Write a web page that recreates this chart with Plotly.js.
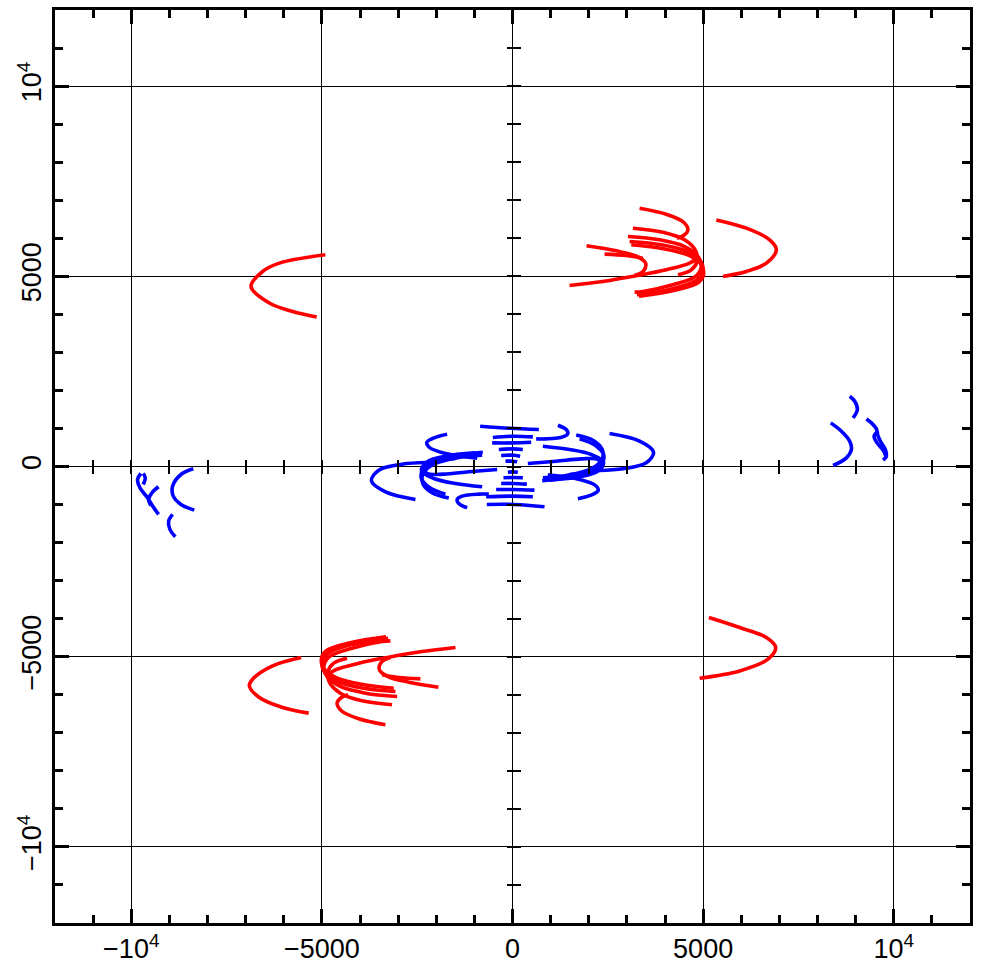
<!DOCTYPE html>
<html>
<head>
<meta charset="utf-8">
<script src="https://cdn.plot.ly/plotly-3.0.1.min.js"></script>
<style>
  html, body { margin: 0; padding: 0; background: #fff; }
  #chart { width: 981px; height: 971px; }
</style>
</head>
<body>
<div id="chart"></div>
<script>
// tick labels
const TICK_VALS = [-10000, -5000, 0, 5000, 10000];
const TICK_TEXT = ["\u221210<sup>4</sup>", "\u22125000", "0", "5000", "10<sup>4</sup>"];

// red tracks, upper right and lower left clusters plus the two lone arcs
const redNorthX = [
  [5346, 6134, 6745, 6921, 6659, 6134, 5520],
  [3333, 4033, 4488, 4601, 4488, 4313],
  [3158, 3946, 4514, 4803, 4838, 4689, 4339],
  [3027, 3858, 4514, 4864, 4952, 4803, 4208, 3421, 3202],
  [3071, 3902, 4576, 4908, 4996, 4838, 4251, 3517, 3263],
  [3115, 3963, 4628, 4943, 5013, 4890, 4313, 3596, 3316],
  [1942, 2721, 3263, 3491, 3438, 3202],
  [2415, 2983, 3421],
  [1496, 2371, 3246, 4033, 4646, 4864],
  [-4908, -6115, -6554, -6858, -6378, -5766, -5136],
];
const redNorthY = [
  [6483, 6265, 5958, 5696, 5346, 5126, 4995],
  [6789, 6632, 6422, 6221, 6072, 6002],
  [6264, 6159, 5958, 5669, 5389, 5171, 5039],
  [6046, 5958, 5783, 5521, 5258, 4996, 4777, 4602, 4584],
  [5914, 5827, 5652, 5433, 5171, 4908, 4689, 4549, 4514],
  [5827, 5722, 5547, 5319, 5057, 4847, 4646, 4514, 4479],
  [5801, 5669, 5521, 5346, 5144, 5022],
  [5582, 5547, 5477],
  [4759, 4864, 5013, 5171, 5346, 5494],
  [5564, 5346, 5126, 4732, 4297, 4076, 3929],
];
const redSouthX = [
  [-5546, -6291, -6816, -6903, -6640, -6029, -5346],
  [-3333, -4033, -4488, -4601, -4488, -4313],
  [-3158, -3946, -4514, -4803, -4838, -4689, -4339],
  [-3027, -3858, -4514, -4864, -4952, -4803, -4208, -3421, -3202],
  [-3071, -3902, -4576, -4908, -4996, -4838, -4251, -3517, -3263],
  [-3115, -3963, -4628, -4943, -5013, -4890, -4313, -3596, -3316],
  [-1942, -2721, -3263, -3491, -3438, -3202],
  [-2415, -2983, -3421],
  [-1496, -2371, -3246, -4033, -4646, -4864],
  [5152, 5958, 6659, 6903, 6701, 5958, 4908],
];
const redSouthY = [
  [-5021, -5241, -5591, -5766, -6071, -6333, -6483],
  [-6789, -6632, -6422, -6221, -6072, -6002],
  [-6264, -6159, -5958, -5669, -5389, -5171, -5039],
  [-6046, -5958, -5783, -5521, -5258, -4996, -4777, -4602, -4584],
  [-5914, -5827, -5652, -5433, -5171, -4908, -4689, -4549, -4514],
  [-5827, -5722, -5547, -5319, -5057, -4847, -4646, -4514, -4479],
  [-5801, -5669, -5521, -5346, -5144, -5022],
  [-5582, -5547, -5477],
  [-4759, -4864, -5013, -5171, -5346, -5494],
  [-3971, -4234, -4496, -4759, -5066, -5373, -5564],
];

// blue tracks near the origin
const blueCoreX = [
  [2546, 3333, 3701, 3508, 2896, 2266],
  [1190, 1409, 1452, 1321, 884, 621],
  [1671, 2109, 2353, 2345, 2065, 1409, 796],
  [1759, 2178, 2397, 2301, 1890, 1234, 779],
  [796, 1496, 2065, 2388, 2240, 1759, 971],
  [402, 1146, 1802, 2240, 2327, 2109, 1496],
  [927, 1759, 2178, 2248, 2039, 1715],
  [-2546, -3333, -3701, -3508, -2896, -2266],
  [-1190, -1409, -1452, -1321, -884, -621],
  [-1671, -2109, -2353, -2345, -2065, -1409, -796],
  [-1759, -2178, -2397, -2301, -1890, -1234, -779],
  [-796, -1496, -2065, -2388, -2240, -1759, -971],
  [-402, -1146, -1802, -2240, -2327, -2109, -1496],
  [-927, -1759, -2178, -2248, -2039, -1715],
  [-849, -79, 691],
  [-516, 9, 534],
  [-534, 9, 490],
  [-359, 9, 271],
  [-297, 9, 201],
  [-184, 9, 122],
  [-122, 9, 140],
  [-236, 9, 271],
  [-297, 9, 376],
  [-429, 9, 577],
  [-691, 9, 534],
  [-674, 52, 840],
];
const blueCoreY = [
  [866, 665, 376, 96, -61, -105],
  [1085, 971, 866, 779, 726, 726],
  [831, 691, 446, 184, -61, -236, -297],
  [726, 551, 289, 26, -184, -324, -376],
  [534, 446, 315, 114, -122, -271, -359],
  [79, 140, 201, 184, 26, -122, -210],
  [-219, -341, -499, -630, -761, -849],
  [-866, -665, -376, -96, 61, 105],
  [-1085, -971, -866, -779, -726, -726],
  [-831, -691, -446, -184, 61, 236, 297],
  [-726, -551, -289, -26, 184, 324, 376],
  [-534, -446, -315, -114, 122, 271, 359],
  [-79, -140, -201, -184, -26, 122, 210],
  [219, 341, 499, 630, 761, 849],
  [1059, 1006, 971],
  [761, 796, 779],
  [621, 621, 639],
  [446, 464, 446],
  [289, 297, 271],
  [140, 140, 122],
  [-149, -140, -149],
  [-297, -289, -297],
  [-446, -446, -464],
  [-604, -604, -621],
  [-796, -779, -796],
  [-997, -997, -1059],
];

// blue tracks far west and far east
const blueWestX = [
  [-8373, -8696, -8915, -8898, -8696, -8347],
  [-8915, -9020, -8985, -8845],
  [-9747, -9834, -9773, -9572, -9440, -9283],
  [-9283, -9458, -9545, -9484],
  [-9685, -9633, -9685],
];
const blueWestY = [
  [-61, -210, -516, -779, -997, -1146],
  [-1260, -1435, -1654, -1846],
  [-184, -341, -560, -822, -1041, -1260],
  [-534, -691, -866, -1024],
  [-184, -297, -472],
];
const blueEastX = [
  [8347, 8627, 8845, 8889, 8758, 8408],
  [8845, 8976, 9046, 8932],
  [9283, 9414, 9545, 9589, 9676, 9781, 9808, 9720],
  [9589, 9484, 9563, 9738, 9799],
];
const blueEastY = [
  [1146, 927, 665, 446, 227, 26],
  [1846, 1715, 1496, 1277],
  [1251, 1146, 989, 796, 621, 446, 271, 166],
  [927, 796, 621, 402, 227],
];

const RED = "#FF0000";
const BLUE = "#0000FF";

function arcTraces(xs, ys, color, xaxis, yaxis) {
  return xs.map((x, i) => ({
    type: "scatter",
    mode: "lines",
    x: x,
    y: ys[i],
    xaxis: xaxis || "x",
    yaxis: yaxis || "y",
    line: { color: color, width: 3.6, shape: "spline", smoothing: 1 },
    hoverinfo: "skip",
    showlegend: false,
  }));
}

// the outer blue groups sit on the overlay axes (same range) so those axes get drawn
const traces = [
  ...arcTraces(blueCoreX, blueCoreY, BLUE),
  ...arcTraces(blueWestX, blueWestY, BLUE, "x2", "y2"),
  ...arcTraces(blueEastX, blueEastY, BLUE, "x2", "y2"),
  ...arcTraces(redNorthX, redNorthY, RED),
  ...arcTraces(redSouthX, redSouthY, RED),
];

const RANGE = [-12000, 12000];
const PLOT_W = 915;
const PLOT_H = 913;
const CROSS_LEN = 14;
const tickFont = { family: "Liberation Sans, Arial, sans-serif", size: 27, color: "#000" };

function frameAxis(extra) {
  return Object.assign({
    range: RANGE,
    tickmode: "array",
    tickvals: TICK_VALS,
    ticktext: TICK_TEXT,
    ticks: "inside",
    ticklen: 14,
    tickwidth: 3,
    tickcolor: "#000",
    minor: { tickmode: "linear", tick0: 0, dtick: 1000, ticks: "inside", ticklen: 8, tickwidth: 3, tickcolor: "#000", showgrid: false },
    showgrid: true,
    gridcolor: "#000",
    gridwidth: 1,
    zeroline: true,
    zerolinecolor: "#000",
    zerolinewidth: 1.5,
    showline: true,
    linewidth: 3,
    linecolor: "#000",
    mirror: "ticks",
    tickfont: tickFont,
    fixedrange: true,
  }, extra);
}

// short ticks crossing the zero lines: axis shifted half a tick, ticks pointing inward
function crossAxis(base, span) {
  return {
    overlaying: base,
    anchor: "free",
    position: 0.5 - CROSS_LEN / 2 / span,
    range: RANGE,
    tickmode: "linear",
    tick0: 0,
    dtick: 1000,
    ticks: "inside",
    ticklen: CROSS_LEN,
    tickwidth: 2,
    tickcolor: "#000",
    showticklabels: false,
    showgrid: false,
    zeroline: false,
    showline: false,
    fixedrange: true,
  };
}

const layout = {
  width: 981,
  height: 971,
  margin: { l: 55, r: 11, t: 10, b: 48 },
  paper_bgcolor: "#fff",
  plot_bgcolor: "#fff",
  showlegend: false,
  xaxis: frameAxis({}),
  yaxis: frameAxis({ tickangle: -90 }),
  xaxis2: crossAxis("x", PLOT_H),
  yaxis2: crossAxis("y", PLOT_W),
};

Plotly.newPlot("chart", traces, layout, { displayModeBar: false, staticPlot: true });
</script>
</body>
</html>
